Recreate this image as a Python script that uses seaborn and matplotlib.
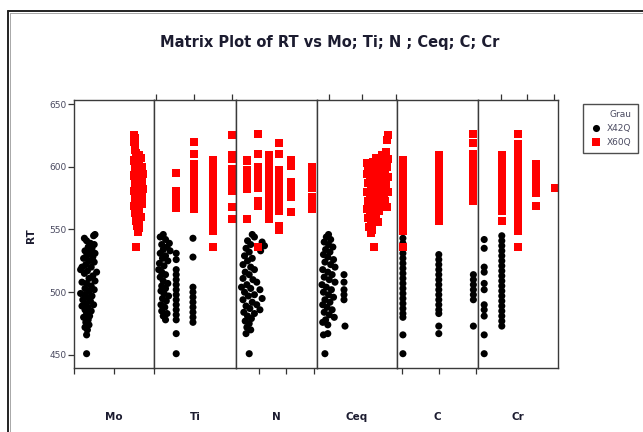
import matplotlib
matplotlib.use("Agg")
import matplotlib.pyplot as plt
from matplotlib.lines import Line2D
import pandas as pd
import seaborn as sns

sns.set_theme(style="white")
plt.rcParams["font.family"] = ["DejaVu Sans"]

# ---------------------------------------------------------------- data
GRADES = ["X42Q", "X60Q"]

# RT vs Mo
mo_x42q = [0.105, 0.098, 0.052, 0.063, 0.082, 0.101, 0.071, 0.090, 0.055, 0.078,
           0.105, 0.063, 0.094, 0.048, 0.075, 0.101, 0.059, 0.040, 0.086, 0.033,
           0.067, 0.113, 0.052, 0.094, 0.075, 0.105, 0.040, 0.063, 0.086, 0.055,
           0.101, 0.075, 0.033, 0.052, 0.090, 0.067, 0.044, 0.082, 0.059, 0.098,
           0.040, 0.071, 0.055, 0.086, 0.063, 0.078, 0.048, 0.071, 0.059, 0.075,
           0.055, 0.067, 0.063, 0.063]
rt_mo_x42q = [546, 545, 543, 541, 539, 538, 536, 535, 533, 532,
              531, 529, 528, 527, 525, 524, 522, 520, 520, 518,
              517, 516, 515, 513, 511, 509, 508, 507, 505, 503,
              502, 501, 499, 498, 497, 496, 494, 493, 491, 490,
              489, 488, 486, 485, 483, 481, 480, 478, 476, 474,
              472, 470, 466, 451]
mo_x60q = [0.300, 0.303, 0.302, 0.306, 0.303, 0.312, 0.324, 0.333, 0.300, 0.315,
           0.327, 0.339, 0.306, 0.321, 0.333, 0.345, 0.300, 0.312, 0.327, 0.339,
           0.306, 0.318, 0.333, 0.345, 0.300, 0.312, 0.324, 0.339, 0.306, 0.318,
           0.330, 0.342, 0.300, 0.315, 0.327, 0.306, 0.321, 0.333, 0.312, 0.327,
           0.315, 0.324, 0.318, 0.312]
rt_mo_x60q = [625, 623, 620, 617, 613, 611, 609, 607, 605, 604,
              602, 600, 599, 597, 596, 594, 593, 591, 590, 588,
              587, 585, 584, 582, 581, 579, 578, 576, 575, 573,
              572, 570, 569, 567, 566, 563, 561, 560, 557, 556,
              553, 551, 548, 536]

# RT vs Ti
ti_x42q = [0.0119, 0.0111, 0.0125, 0.0135, 0.0115, 0.0129, 0.0119, 0.0137, 0.0111, 0.0125,
           0.0117, 0.0131, 0.0109, 0.0121, 0.0107, 0.0115, 0.0125, 0.0111, 0.0119, 0.0131,
           0.0115, 0.0125, 0.0113, 0.0121, 0.0133, 0.0117, 0.0127, 0.0113, 0.0123, 0.0115,
           0.0129, 0.0119, 0.0125]
rt_ti_x42q = [546, 544, 542, 539, 538, 536, 534, 533, 531, 529,
              527, 525, 523, 521, 518, 516, 514, 512, 509, 507,
              505, 503, 501, 499, 497, 495, 493, 490, 488, 485,
              483, 481, 478]
ti_levels_x42q = [0.0153, 0.0197]
ti_rt_x42q = [[531, 526, 518, 514, 510, 506, 502, 498, 494, 490, 486, 482, 478, 467, 451],
              [543, 528, 504, 500, 496, 492, 488, 484, 480, 476]]
ti_levels_x60q = [0.0153, 0.0200, 0.0250, 0.0300]
ti_rt_x60q = [[595, 581, 574, 570, 567],
              [620, 610, 602, 598, 594, 590, 586, 582, 578, 574, 570, 566],
              [605, 601, 597, 593, 589, 585, 581, 577, 573, 569, 565, 561, 557, 553, 549, 536],
              [625, 609, 606, 598, 594, 590, 586, 581, 568, 558]]

# RT vs N
n_x42q = [0.00351, 0.00367, 0.00317, 0.00423, 0.00340, 0.00440, 0.00306, 0.00412, 0.00329, 0.00295,
          0.00351, 0.00317, 0.00284, 0.00340, 0.00367, 0.00300, 0.00329, 0.00284, 0.00356, 0.00384,
          0.00312, 0.00273, 0.00340, 0.00407, 0.00295, 0.00367, 0.00323, 0.00423, 0.00284, 0.00351,
          0.00384, 0.00306, 0.00334, 0.00407, 0.00290, 0.00367, 0.00317, 0.00345, 0.00300, 0.00329,
          0.00312, 0.00340, 0.00306, 0.00329]
rt_n_x42q = [546, 544, 541, 540, 538, 537, 535, 533, 532, 529,
             527, 525, 522, 520, 518, 516, 514, 511, 510, 508,
             506, 504, 503, 502, 500, 498, 497, 495, 494, 492,
             490, 489, 487, 486, 484, 483, 481, 479, 477, 475,
             472, 470, 467, 451]
n_levels_x60q = [0.00316, 0.00395, 0.00474, 0.00547, 0.00633, 0.00783]
n_rt_x60q = [[605, 597, 593, 589, 585, 582, 558],
             [626, 610, 600, 596, 592, 588, 583, 573, 569, 536],
             [609, 605, 601, 597, 593, 589, 585, 581, 577, 573, 569, 565, 558],
             [619, 610, 597, 593, 589, 585, 581, 577, 573, 569, 565, 553, 550],
             [605, 601, 588, 584, 580, 576, 564],
             [600, 596, 592, 588, 583, 576, 571, 566]]

# RT vs Ceq
ceq_x42q = [0.2993, 0.2960, 0.3025, 0.2928, 0.2993, 0.3058, 0.2949, 0.3014, 0.2917, 0.2982,
            0.3068, 0.2939, 0.3025, 0.3090, 0.2906, 0.2982, 0.3047, 0.3225, 0.2928, 0.3004,
            0.3090, 0.2895, 0.2960, 0.3036, 0.3225, 0.2917, 0.2993, 0.3068, 0.2939, 0.3225,
            0.3014, 0.2906, 0.2971, 0.3047, 0.2928, 0.3004, 0.3079, 0.2949, 0.2906, 0.2982,
            0.3240, 0.2917, 0.2982, 0.2939, 0.3225, 0.3225]
rt_ceq_x42q = [546, 544, 542, 540, 538, 536, 534, 532, 530, 528,
               526, 524, 522, 520, 518, 516, 514, 514, 512, 510,
               508, 506, 504, 502, 502, 500, 498, 496, 494, 494,
               492, 490, 488, 486, 484, 482, 480, 478, 476, 474,
               473, 466, 467, 451, 508, 498]
ceq_x60q = [0.3890, 0.3866, 0.3855, 0.3797, 0.3878, 0.3820, 0.3866, 0.3785, 0.3843, 0.3890,
            0.3809, 0.3855, 0.3785, 0.3878, 0.3820, 0.3843, 0.3797, 0.3866,
            0.3566, 0.3612, 0.3659, 0.3705, 0.3750, 0.3588, 0.3635, 0.3681, 0.3728, 0.3774,
            0.3566, 0.3612, 0.3659, 0.3705, 0.3750, 0.3588, 0.3635, 0.3681, 0.3728, 0.3774,
            0.3566, 0.3612, 0.3659, 0.3705, 0.3750, 0.3588, 0.3635, 0.3681, 0.3728, 0.3774,
            0.3566, 0.3612, 0.3659, 0.3705, 0.3750, 0.3588, 0.3635, 0.3681, 0.3728,
            0.3600, 0.3647, 0.3624, 0.3681]
rt_ceq_x60q = [625, 621, 612, 609, 606, 603, 600, 598, 595, 592,
               589, 586, 583, 580, 577, 573, 570, 568,
               603, 602, 604, 607, 606, 600, 597, 601, 603, 600,
               594, 591, 594, 596, 592, 587, 585, 588, 584, 586,
               580, 578, 581, 576, 579, 573, 571, 574, 569, 572,
               566, 564, 567, 562, 565, 559, 557, 560, 556,
               552, 550, 547, 536]

# RT vs C
c_levels = [0.0405, 0.0599, 0.0786]
c_rt_x42q = [[543, 539, 535, 531, 527, 523, 519, 515, 511, 507, 503, 499, 495, 491, 487, 483, 480, 466, 451],
             [530, 526, 522, 518, 514, 510, 506, 502, 498, 494, 490, 486, 483, 473, 467],
             [514, 510, 506, 502, 498, 494, 473]]
c_rt_x60q = [[605, 601, 597, 593, 589, 585, 581, 577, 573, 569, 565, 561, 557, 553, 549, 536],
             [609, 605, 601, 597, 593, 589, 585, 581, 577, 573, 569, 565, 561, 557],
             [626, 619, 610, 606, 602, 598, 594, 590, 586, 582, 578, 573]]

# RT vs Cr
cr_levels_x42q = [0.0183, 0.0515]
cr_rt_x42q = [[542, 535, 520, 516, 507, 502, 490, 486, 481, 466, 451],
              [545, 541, 537, 533, 529, 525, 521, 517, 513, 509, 505, 501, 497, 493, 489, 485, 481, 477, 473]]
cr_levels_x60q = [0.0515, 0.0826, 0.1157, 0.1513]
cr_rt_x60q = [[609, 605, 601, 597, 593, 589, 585, 581, 577, 573, 569, 565, 557],
              [626, 618, 614, 610, 606, 602, 598, 594, 590, 586, 582, 578, 574, 570, 566, 562, 558, 554, 549, 536],
              [602, 598, 594, 590, 586, 583, 579, 569],
              [583]]

var_names = ["Mo", "Ti", "N", "Ceq", "C", "Cr"]
x_limits = [(0.0, 0.4), (0.00947, 0.0310), (0.00233, 0.00822),
            (0.282, 0.402), (0.0373, 0.0811), (0.0066, 0.1576)]
x_ticks = [[0.0, 0.2, 0.4], [0.010, 0.020, 0.030], [0.004, 0.006, 0.008],
           [0.30, 0.35, 0.40], [0.04, 0.06, 0.08], [0.05, 0.10, 0.15]]
tick_side = ["bottom", "top", "bottom", "top", "bottom", "top"]
rt_ticks = [450, 500, 550, 600, 650]


def expand(levels, groups):
    xs, ys = [], []
    for lv, grp in zip(levels, groups):
        xs += [lv] * len(grp)
        ys += grp
    return xs, ys


def frame(var, xs42, rt42, xs60, rt60):
    a = pd.DataFrame({var: xs42, "RT": rt42, "Grau": "X42Q"})
    b = pd.DataFrame({var: xs60, "RT": rt60, "Grau": "X60Q"})
    return pd.concat([a, b], ignore_index=True)


ti42_lx, ti42_ly = expand(ti_levels_x42q, ti_rt_x42q)
ti60_x, ti60_y = expand(ti_levels_x60q, ti_rt_x60q)
n60_x, n60_y = expand(n_levels_x60q, n_rt_x60q)
c42_x, c42_y = expand(c_levels, c_rt_x42q)
c60_x, c60_y = expand(c_levels, c_rt_x60q)
cr42_x, cr42_y = expand(cr_levels_x42q, cr_rt_x42q)
cr60_x, cr60_y = expand(cr_levels_x60q, cr_rt_x60q)

panels = [
    frame("Mo", mo_x42q, rt_mo_x42q, mo_x60q, rt_mo_x60q),
    frame("Ti", ti_x42q + ti42_lx, rt_ti_x42q + ti42_ly, ti60_x, ti60_y),
    frame("N", n_x42q, rt_n_x42q, n60_x, n60_y),
    frame("Ceq", ceq_x42q, rt_ceq_x42q, ceq_x60q, rt_ceq_x60q),
    frame("C", c42_x, c42_y, c60_x, c60_y),
    frame("Cr", cr42_x, cr42_y, cr60_x, cr60_y),
]

# ---------------------------------------------------------------- layout
W, H = 643, 432
fig = plt.figure(figsize=(W / 100, H / 100), dpi=100)
fig.patch.set_facecolor("white")

edges = [74, 154, 236, 317, 397, 478, 558]
top_px, bottom_px = 100, 368
text_col = "#1c1c30"
tick_col = "#4a4a60"

palette = {"X42Q": "black", "X60Q": "#ff0000"}
markers = {"X42Q": "o", "X60Q": "s"}
sizes = {"X42Q": 26, "X60Q": 34}

axes = []
for i, (var, df) in enumerate(zip(var_names, panels)):
    x0, x1 = edges[i], edges[i + 1]
    ax = fig.add_axes([x0 / W, 1 - bottom_px / H, (x1 - x0) / W, (bottom_px - top_px) / H])
    sns.scatterplot(data=df, x=var, y="RT", hue="Grau", style="Grau", size="Grau",
                    hue_order=GRADES, style_order=GRADES, size_order=GRADES,
                    palette=palette, markers=markers, sizes=sizes,
                    linewidth=0, edgecolor="none", alpha=1.0,
                    legend=(i == 0), ax=ax)
    ax.set_xlim(*x_limits[i])
    ax.set_ylim(439.6, 653.2)
    ax.set_xlabel("")
    ax.set_ylabel("")
    ax.set_xticks(x_ticks[i])
    ax.set_xticklabels([])
    ax.xaxis.set_ticks_position(tick_side[i])
    ax.tick_params(axis="x", which="both", direction="out", length=4, width=0.9,
                   color="#333333", labelbottom=False, labeltop=False)
    if i == 0:
        ax.set_yticks(rt_ticks)
        ax.set_yticklabels([str(t) for t in rt_ticks])
        ax.tick_params(axis="y", direction="out", length=4, width=0.9, color="#333333",
                       labelsize=6.5, labelcolor=tick_col, pad=1.5, left=True)
    else:
        ax.set_yticks([])
    for sp in ax.spines.values():
        sp.set_visible(True)
        sp.set_color("#3a3a3a")
        sp.set_linewidth(1.0)
    ax.set_facecolor("white")
    fig.text((x0 + x1) / 2 / W, 1 - 417 / H, var, ha="center", va="center",
             fontsize=7.5, fontweight="bold", color=text_col)
    axes.append(ax)

# legend for the grades
sns.move_legend(axes[0], "upper left", bbox_to_anchor=(578 / W, 1 - 99 / H),
                bbox_transform=fig.transFigure, title="Grau", frameon=True,
                fontsize=6.5, title_fontsize=6.5, handletextpad=0.5,
                borderpad=0.7, labelspacing=0.55, handlelength=1.5,
                markerscale=1.0, fancybox=False, shadow=False, alignment="right")
leg = axes[0].get_legend()
leg.get_frame().set_edgecolor("#222222")
leg.get_frame().set_linewidth(1.0)
for t in leg.get_texts():
    t.set_color(tick_col)
leg.get_title().set_color(tick_col)

fig.text(31 / W, 1 - 236 / H, "RT", rotation=90, ha="center", va="center",
         fontsize=7.5, fontweight="bold", color=text_col)
fig.text(330 / W, 1 - 42 / H, "Matrix Plot of RT vs Mo; Ti; N ; Ceq; C; Cr",
         ha="center", va="center", fontsize=10.5, fontweight="bold", color=text_col)

# outer frame of the graph window
fig.add_artist(Line2D([8 / W, 8 / W], [0, 1 - 11 / H], transform=fig.transFigure,
                      color="#222222", lw=1.4))
fig.add_artist(Line2D([8 / W, 1], [1 - 11 / H, 1 - 11 / H], transform=fig.transFigure,
                      color="#222222", lw=1.4))
fig.add_artist(Line2D([9.5 / W, 9.5 / W], [0, 1 - 12.5 / H], transform=fig.transFigure,
                      color="#9a9a9a", lw=0.6))
fig.add_artist(Line2D([9.5 / W, 1], [1 - 12.5 / H, 1 - 12.5 / H], transform=fig.transFigure,
                      color="#9a9a9a", lw=0.6))

fig.savefig("out.png", dpi=100, facecolor="white")
